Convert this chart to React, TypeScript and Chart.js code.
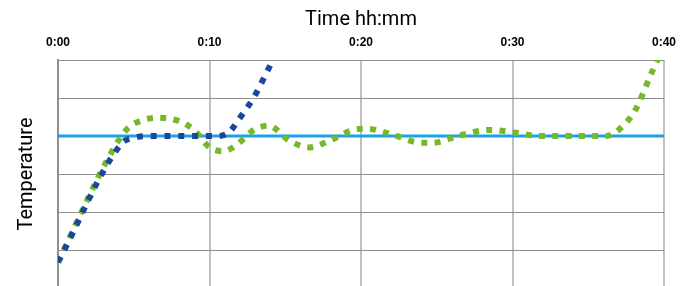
import React, { useEffect, useRef } from "react";
import { Chart, registerables } from "chart.js";

Chart.register(...registerables);

// minutes
const xTicks = [0, 10, 20, 30, 40];
const yMin = 0;
const yMax = 6;
const setpointTimes = [0, 40];
const setpointValues = [4, 4];

const fastTimes = [0, 4.2, 5.1, 6.0, 10.5, 11.3, 11.9, 12.9, 14.2, 14.8];
const fastValues = [0.68, 3.8, 3.96, 4.0, 4.0, 4.1, 4.42, 5.0, 6.0, 6.4];

const slowTimes = [0, 3.5, 4.6, 5.4, 6.6, 8.0, 9.0, 10.0, 10.9, 11.7, 13.0, 13.9, 15.3, 16.6, 17.9, 19.5, 20.4, 22.1, 23.8, 24.7, 26.4, 28.5, 30.0, 31.7, 36.2, 37.0, 38.1, 39.2, 39.8];
const slowValues = [0.68, 3.55, 4.2, 4.39, 4.48, 4.39, 4.15, 3.7, 3.6, 3.74, 4.18, 4.27, 3.87, 3.7, 3.87, 4.16, 4.19, 4.03, 3.83, 3.82, 4.0, 4.16, 4.1, 4.0, 4.0, 4.16, 4.68, 5.68, 6.2];

const fmt = (m: number) => `${Math.floor(m / 60)}:${String(m % 60).padStart(2, "0")}`;

export default function App() {
  const ref = useRef<HTMLCanvasElement | null>(null);
  useEffect(() => {
    document.body.style.margin = "0";
    const ctx = ref.current!;
    const pts = (xs: number[], ys: number[]) => xs.map((x, i) => ({ x, y: ys[i] }));
    const chart = new Chart(ctx, {
      type: "line",
      data: {
        datasets: [
          {
            data: pts(setpointTimes, setpointValues),
            borderColor: "#1ba1e6",
            borderWidth: 3,
            pointRadius: 0,
            tension: 0,
            order: 3,
          },
          {
            data: pts(slowTimes, slowValues),
            borderColor: "#76b82a",
            borderWidth: 6,
            borderDash: [6, 7.3],
            borderCapStyle: "butt",
            pointRadius: 0,
            cubicInterpolationMode: "monotone",
            order: 2,
          },
          {
            data: pts(fastTimes, fastValues),
            borderColor: "#1a479a",
            borderWidth: 6,
            borderDash: [6, 7.8],
            borderCapStyle: "butt",
            pointRadius: 0,
            cubicInterpolationMode: "monotone",
            order: 1,
          },
        ],
      },
      options: {
        animation: false,
        responsive: false,
        maintainAspectRatio: false,
        layout: { padding: { left: 0, right: 29, top: 0, bottom: 0 } },
        plugins: { legend: { display: false }, tooltip: { enabled: false } },
        scales: {
          x: {
            type: "linear",
            position: "top",
            min: 0,
            max: 40,
            afterBuildTicks: (s: any) => {
              s.ticks = xTicks.map((v) => ({ value: v }));
            },
            afterFit: (s: any) => {
              s.height = 60;
            },
            ticks: {
              callback: (v: any) => fmt(Number(v)),
              color: "#000",
              font: { family: "Liberation Sans", size: 12, weight: "bold" },
              padding: 10,
              maxRotation: 0,
            },
            grid: { color: "#c0c0c0", lineWidth: 2, drawTicks: false },
            border: { display: false },
            title: {
              display: true,
              text: "Time hh:mm",
              color: "#000",
              font: { family: "Roboto", size: 20 },
              padding: { top: 8, bottom: 0 },
            },
          },
          y: {
            min: yMin,
            max: yMax,
            afterFit: (s: any) => {
              s.width = 58;
            },
            ticks: { display: false, stepSize: 1 },
            grid: { color: "#909090", lineWidth: 1, drawTicks: false },
            border: { display: true, color: "#909090", width: 2 },
            title: {
              display: true,
              text: "Temperature",
              color: "#000",
              font: { family: "Roboto", size: 20 },
              padding: { top: 15, bottom: 0 },
            },
          },
        },
      },
    });
    return () => chart.destroy();
  }, []);
  return <canvas ref={ref} width={693} height={288} style={{ display: "block", width: 693, height: 288 }} />;
}
